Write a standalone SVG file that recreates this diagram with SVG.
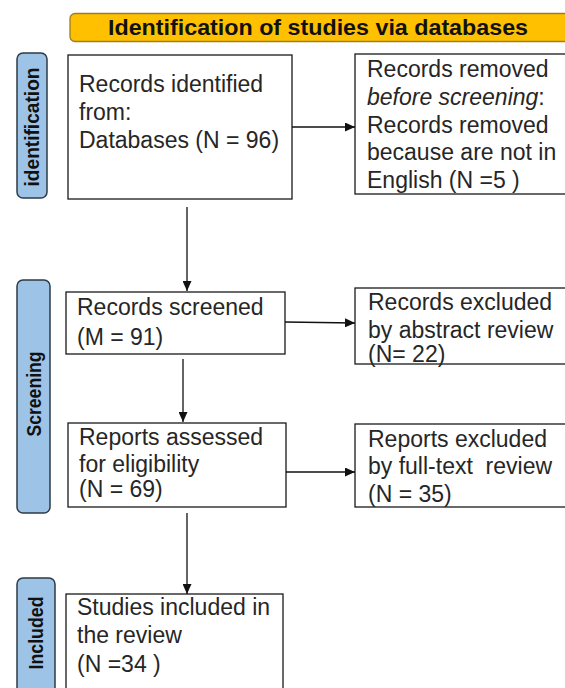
<svg xmlns="http://www.w3.org/2000/svg" width="565" height="688" viewBox="0 0 565 688">
<style>
.box{fill:#fff;stroke:#1a1a1a;stroke-width:1.3}
.t{font-family:"Liberation Sans",Arial,sans-serif;font-size:23px;fill:#262626}
.side{fill:#9dc3e6;stroke:#2e3b47;stroke-width:1.5}
.st{font-family:"Liberation Sans",Arial,sans-serif;font-size:21px;font-weight:bold;fill:#111;text-anchor:middle}
.c{stroke:#111;stroke-width:1.3;fill:none;marker-end:url(#ah)}
</style>
<defs>
<marker id="ah" markerUnits="userSpaceOnUse" markerWidth="11" markerHeight="9" refX="10" refY="4.5" orient="auto">
<path d="M0,0 L10,4.5 L0,9 z" fill="#111"/>
</marker>
</defs>
<rect width="565" height="688" fill="#fff"/>
<g id="title">
<rect x="70" y="13.5" width="505" height="28" rx="5" fill="#ffc000" stroke="#9c7f1c" stroke-width="1.3"/>
<text x="108" y="35" font-family="Liberation Sans, Arial, sans-serif" font-size="21.5" font-weight="bold" fill="#111" textLength="420" lengthAdjust="spacingAndGlyphs">Identification of studies via databases</text>
</g>
<g id="label-identification">
<rect class="side" x="17" y="53" width="30" height="145" rx="6"/>
<text class="st" transform="translate(39,127) rotate(-90)" textLength="119" lengthAdjust="spacingAndGlyphs">identification</text>
</g>
<g id="label-screening">
<rect class="side" x="17" y="280" width="33" height="233" rx="6"/>
<text class="st" transform="translate(41,394) rotate(-90)" textLength="85" lengthAdjust="spacingAndGlyphs">Screening</text>
</g>
<g id="label-included">
<rect class="side" x="17" y="578" width="38" height="130" rx="6"/>
<text class="st" transform="translate(43,633) rotate(-90)" textLength="73" lengthAdjust="spacingAndGlyphs">Included</text>
</g>
<g id="records-identified">
<rect class="box" x="68" y="55" width="224" height="144"/>
<text class="t" x="79" y="92">Records identified</text>
<text class="t" x="79" y="120">from:</text>
<text class="t" x="79" y="148">Databases (N = 96)</text>
</g>
<g id="records-removed">
<rect class="box" x="355" y="54" width="214" height="140"/>
<text class="t" x="367" y="77">Records removed</text>
<text class="t" x="367" y="105"><tspan font-style="italic">before screening</tspan>:</text>
<text class="t" x="367" y="133">Records removed</text>
<text class="t" x="367" y="160">because are not in</text>
<text class="t" x="367" y="188">English (N =5 )</text>
</g>
<g id="records-screened">
<rect class="box" x="66" y="292" width="219" height="62"/>
<text class="t" x="77" y="315">Records screened</text>
<text class="t" x="77" y="345">(M = 91)</text>
</g>
<g id="records-excluded">
<rect class="box" x="355" y="288" width="214" height="76"/>
<text class="t" x="368" y="310">Records excluded</text>
<text class="t" x="368" y="338">by abstract review</text>
<text class="t" x="368" y="362">(N= 22)</text>
</g>
<g id="reports-assessed">
<rect class="box" x="68" y="423" width="218" height="84"/>
<text class="t" x="79" y="445">Reports assessed</text>
<text class="t" x="79" y="472">for eligibility</text>
<text class="t" x="79" y="497">(N = 69)</text>
</g>
<g id="reports-excluded">
<rect class="box" x="355" y="424" width="214" height="83"/>
<text class="t" x="368" y="447">Reports excluded</text>
<text class="t" x="368" y="474" xml:space="preserve">by full-text  review</text>
<text class="t" x="368" y="502">(N = 35)</text>
</g>
<g id="studies-included">
<rect class="box" x="66" y="594" width="217" height="110"/>
<text class="t" x="77" y="615">Studies included in</text>
<text class="t" x="77" y="643">the review</text>
<text class="t" x="77" y="672">(N =34 )</text>
</g>
<g id="connectors">
<line class="c" x1="292" y1="127" x2="355" y2="127"/>
<line class="c" x1="187" y1="207" x2="187" y2="291"/>
<line class="c" x1="285" y1="322" x2="355" y2="323"/>
<line class="c" x1="183" y1="359" x2="183" y2="422"/>
<line class="c" x1="286" y1="472" x2="355" y2="472"/>
<line class="c" x1="187" y1="513" x2="187" y2="594"/>
</g>
</svg>
